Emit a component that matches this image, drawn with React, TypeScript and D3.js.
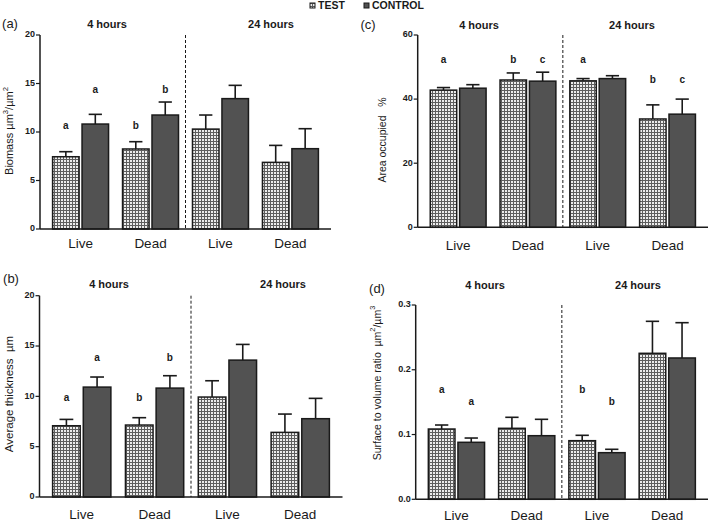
import React from "react";
import * as d3 from "d3";

const groups = ["Live", "Dead", "Live", "Dead"];
const periods = ["4 hours", "24 hours"];
const seriesNames = ["TEST", "CONTROL"];

// (a) Biomass
const biomassTest = [7.45, 8.25, 10.3, 6.87];
const biomassTestErr = [0.52, 0.75, 1.45, 1.75];
const biomassControl = [10.82, 11.75, 13.44, 8.28];
const biomassControlErr = [1.0, 1.34, 1.37, 2.06];
const biomassLetters = [
  { group: 0, series: 0, text: "a", value: 10.55 },
  { group: 0, series: 1, text: "a", value: 14.26 },
  { group: 1, series: 0, text: "b", value: 10.55 },
  { group: 1, series: 1, text: "b", value: 14.26 },
];
const biomassTicks = [0, 5, 10, 15, 20];

// (b) Average thickness
const thickTest = [7.08, 7.15, 9.93, 6.42];
const thickTestErr = [0.63, 0.73, 1.62, 1.82];
const thickControl = [10.92, 10.82, 13.6, 7.78];
const thickControlErr = [1.0, 1.23, 1.56, 2.02];
const thickLetters = [
  { group: 0, series: 0, text: "a", value: 9.8 },
  { group: 0, series: 1, text: "a", value: 13.77 },
  { group: 1, series: 0, text: "b", value: 9.8 },
  { group: 1, series: 1, text: "b", value: 13.77 },
];
const thickTicks = [0, 5, 10, 15, 20];

// (c) Area occupied
const areaTest = [42.8, 45.96, 45.7, 33.8];
const areaTestErr = [0.8, 2.2, 0.7, 4.4];
const areaControl = [43.4, 45.6, 46.4, 35.3];
const areaControlErr = [1.1, 2.8, 0.9, 4.7];
const areaLetters = [
  { group: 0, series: 0, text: "a", value: 52.2 },
  { group: 1, series: 0, text: "b", value: 52.2 },
  { group: 1, series: 1, text: "c", value: 52.2 },
  { group: 2, series: 0, text: "a", value: 52.2 },
  { group: 3, series: 0, text: "b", value: 45.7 },
  { group: 3, series: 1, text: "c", value: 45.7 },
];
const areaTicks = [0, 20, 40, 60];

// (d) Surface to volume ratio
const ratioTest = [0.1085, 0.1096, 0.0905, 0.2254];
const ratioTestErr = [0.0062, 0.017, 0.0083, 0.0494];
const ratioControl = [0.088, 0.0982, 0.072, 0.2182];
const ratioControlErr = [0.0066, 0.0253, 0.0052, 0.0545];
const ratioLetters = [
  { group: 0, series: 0, text: "a", value: 0.1688 },
  { group: 0, series: 1, text: "a", value: 0.1498 },
  { group: 2, series: 0, text: "b", value: 0.1688 },
  { group: 2, series: 1, text: "b", value: 0.1498 },
];
const ratioTicks = [0, 0.1, 0.2, 0.3];

const FONT = "'Liberation Sans', Arial, Helvetica, sans-serif";
const INK = "#1a1a1a";
const DARK = "#525252";

type Letter = { group: number; series: number; text: string; value: number };

type Layout = {
  left: number;
  right: number;
  top: number;
  bottom: number;
  tag: string;
  tagX: number;
  tagY: number;
  titleY: number;
  titleX: [number, number];
  labelY: number;
  yLabelX: number;
  yLabelY: number;
  yLabelSize: number;
  tickFmt: (v: number) => string;
};

function Panel(props: {
  layout: Layout;
  ticks: number[];
  test: number[];
  testErr: number[];
  control: number[];
  controlErr: number[];
  letters: Letter[];
  yLabel: React.ReactNode;
}) {
  const { layout: L, ticks, test, testErr, control, controlErr, letters, yLabel } = props;
  const x = d3
    .scaleBand<number>()
    .domain(d3.range(groups.length))
    .range([L.left, L.right])
    .paddingInner(0.2)
    .paddingOuter(0.18);
  const xs = d3
    .scaleBand<number>()
    .domain([0, 1])
    .range([0, x.bandwidth()])
    .paddingInner(0.1);
  const y = d3
    .scaleLinear()
    .domain([0, ticks[ticks.length - 1]])
    .range([L.bottom, L.top]);
  const vals = [test, control];
  const errs = [testErr, controlErr];
  const bw = xs.bandwidth();
  const dashX = ((x(1) as number) + x.bandwidth() + (x(2) as number)) / 2;

  return (
    <g fontFamily={FONT} fill={INK}>
      <text x={L.tagX} y={L.tagY} fontSize={13} textAnchor="middle" dominantBaseline="middle">
        {L.tag}
      </text>
      {periods.map((p, i) => (
        <text
          key={p}
          x={L.titleX[i]}
          y={L.titleY}
          fontSize={11}
          fontWeight="bold"
          textAnchor="middle"
          dominantBaseline="middle"
        >
          {p}
        </text>
      ))}
      <text
        transform={`translate(${L.yLabelX},${L.yLabelY}) rotate(-90)`}
        fontSize={L.yLabelSize}
        textAnchor="middle"
        dominantBaseline="middle"
        style={{ whiteSpace: "pre" }}
      >
        {yLabel}
      </text>
      {groups.map((g, gi) =>
        [0, 1].map((s) => {
          const v = vals[s][gi];
          const e = errs[s][gi];
          const bx = (x(gi) as number) + (xs(s) as number);
          const cx = bx + bw / 2;
          return (
            <g key={`${gi}-${s}`}>
              <line x1={cx} x2={cx} y1={y(v)} y2={y(v + e)} stroke={INK} strokeWidth={1.6} />
              <line
                x1={cx - bw / 4}
                x2={cx + bw / 4}
                y1={y(v + e)}
                y2={y(v + e)}
                stroke={INK}
                strokeWidth={1.6}
              />
              <rect
                x={bx}
                y={y(v)}
                width={bw}
                height={y(0) - y(v)}
                fill={s === 0 ? "url(#gridPat)" : DARK}
                stroke={INK}
                strokeWidth={1.5}
              />
            </g>
          );
        })
      )}
      {letters.map((l, i) => (
        <text
          key={i}
          x={(x(l.group) as number) + (xs(l.series) as number) + bw / 2}
          y={y(l.value)}
          fontSize={10}
          fontWeight="bold"
          textAnchor="middle"
          dominantBaseline="middle"
        >
          {l.text}
        </text>
      ))}
      <line
        x1={dashX}
        x2={dashX}
        y1={L.top}
        y2={L.bottom}
        stroke={INK}
        strokeWidth={1}
        strokeDasharray="3,2"
      />
      <line x1={L.left} x2={L.left} y1={L.top} y2={L.bottom} stroke={INK} strokeWidth={1.5} />
      <line x1={L.left} x2={L.right} y1={L.bottom} y2={L.bottom} stroke={INK} strokeWidth={1.5} />
      {ticks.map((t) => (
        <g key={t}>
          <line x1={L.left - 4} x2={L.left} y1={y(t)} y2={y(t)} stroke={INK} strokeWidth={1.2} />
          <text
            x={L.left - 5}
            y={y(t)}
            fontSize={9}
            fontWeight="bold"
            textAnchor="end"
            dominantBaseline="middle"
          >
            {L.tickFmt(t)}
          </text>
        </g>
      ))}
      {groups.map((g, gi) => (
        <text
          key={gi}
          x={(x(gi) as number) + x.bandwidth() / 2}
          y={L.labelY}
          fontSize={13.5}
          textAnchor="middle"
          dominantBaseline="middle"
        >
          {g}
        </text>
      ))}
    </g>
  );
}

const intFmt = d3.format("d");
const decFmt = d3.format(".1f");

export default function App() {
  const sup = (s: string) => (
    <tspan baselineShift="super" fontSize="70%">
      {s}
    </tspan>
  );
  return (
    <svg
      width={709}
      height={524}
      style={{ position: "absolute", left: 0, top: 0, background: "#fff" }}
    >
      <defs>
        <pattern id="gridPat" width={3} height={3} patternUnits="userSpaceOnUse">
          <rect width={3} height={3} fill="#ececec" />
          <rect width={3} height={1} fill="#5e5e5e" />
          <rect width={1} height={3} fill="#5e5e5e" />
        </pattern>
      </defs>
      {/* Legend */}
      <g fontFamily={FONT} fontSize={10.5} fontWeight="bold" fill={INK}>
        <rect x={310} y={3} width={5} height={5} fill="url(#gridPat)" stroke={INK} strokeWidth={1} />
        <text x={318} y={6} dominantBaseline="middle">
          {seriesNames[0]}
        </text>
        <rect x={364} y={3} width={5} height={5} fill={DARK} stroke={INK} strokeWidth={1} />
        <text x={372} y={6} dominantBaseline="middle">
          {seriesNames[1]}
        </text>
      </g>
      <Panel
        layout={{
          left: 40,
          right: 331,
          top: 35,
          bottom: 229,
          tag: "(a)",
          tagX: 10,
          tagY: 25,
          titleY: 25,
          titleX: [107, 271],
          labelY: 244,
          yLabelX: 10,
          yLabelY: 131,
          yLabelSize: 11,
          tickFmt: intFmt,
        }}
        ticks={biomassTicks}
        test={biomassTest}
        testErr={biomassTestErr}
        control={biomassControl}
        controlErr={biomassControlErr}
        letters={biomassLetters}
        yLabel={
          <>
            Biomass µm{sup("3")}/µm{sup("2")}
          </>
        }
      />
      <Panel
        layout={{
          left: 39.5,
          right: 342.5,
          top: 295.7,
          bottom: 497,
          tag: "(b)",
          tagX: 11,
          tagY: 280,
          titleY: 285,
          titleX: [109, 283],
          labelY: 515,
          yLabelX: 10,
          yLabelY: 394,
          yLabelSize: 11.5,
          tickFmt: intFmt,
        }}
        ticks={thickTicks}
        test={thickTest}
        testErr={thickTestErr}
        control={thickControl}
        controlErr={thickControlErr}
        letters={thickLetters}
        yLabel={<>{"Average thickness  µm"}</>}
      />
      <Panel
        layout={{
          left: 417.7,
          right: 708,
          top: 35,
          bottom: 227.3,
          tag: "(c)",
          tagX: 368,
          tagY: 26,
          titleY: 26,
          titleX: [479, 632],
          labelY: 246.7,
          yLabelX: 383.3,
          yLabelY: 140,
          yLabelSize: 10.5,
          tickFmt: intFmt,
        }}
        ticks={areaTicks}
        test={areaTest}
        testErr={areaTestErr}
        control={areaControl}
        controlErr={areaControlErr}
        letters={areaLetters}
        yLabel={<>{"Area occupied   %"}</>}
      />
      <Panel
        layout={{
          left: 415.7,
          right: 708,
          top: 305,
          bottom: 499.3,
          tag: "(d)",
          tagX: 377,
          tagY: 290,
          titleY: 286,
          titleX: [485, 638],
          labelY: 516.7,
          yLabelX: 378.3,
          yLabelY: 383,
          yLabelSize: 10.5,
          tickFmt: decFmt,
        }}
        ticks={ratioTicks}
        test={ratioTest}
        testErr={ratioTestErr}
        control={ratioControl}
        controlErr={ratioControlErr}
        letters={ratioLetters}
        yLabel={
          <>
            {"Surface to volume ratio  µm"}
            {sup("2")}/µm{sup("3")}
          </>
        }
      />
    </svg>
  );
}
